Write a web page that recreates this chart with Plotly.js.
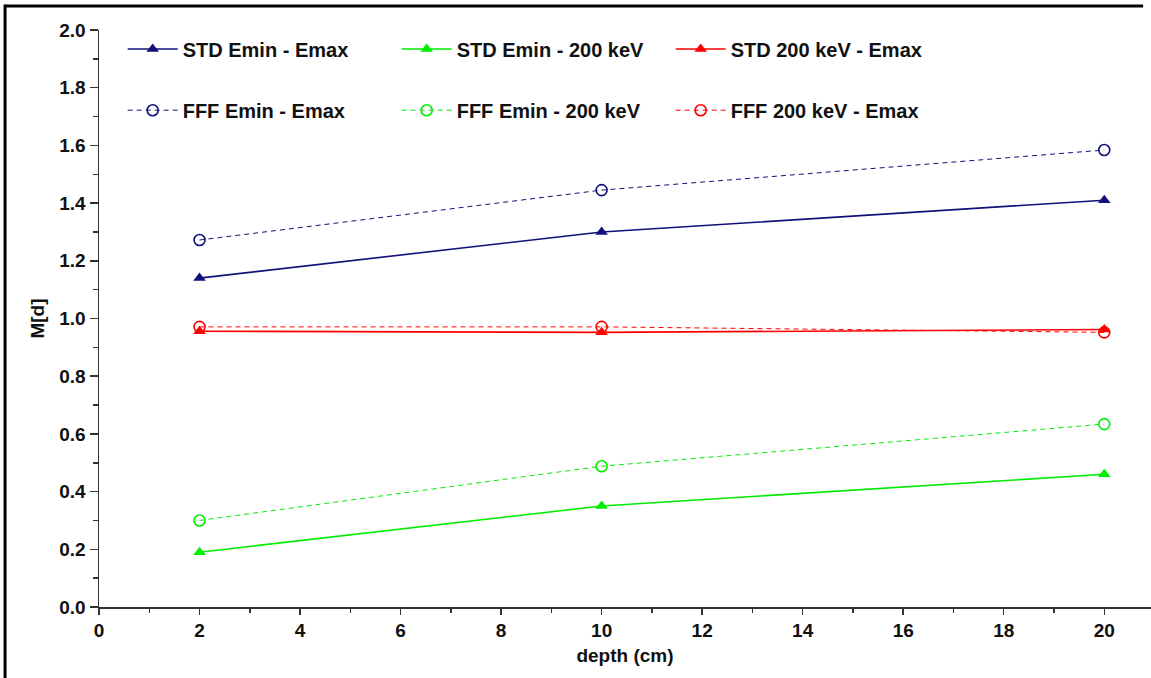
<!DOCTYPE html>
<html>
<head>
<meta charset="utf-8">
<script src="https://cdn.plot.ly/plotly-3.0.1.min.js"></script>
<style>
  html, body { margin: 0; padding: 0; background: #fff; }
  #chart { width: 1151px; height: 678px; }
</style>
</head>
<body>
<div id="chart"></div>
<script>
// ---- data ----
const depth = [2, 10, 20];
const stdEminEmax   = [1.140, 1.300, 1.410];
const stdEmin200    = [0.190, 0.350, 0.460];
const std200Emax    = [0.956, 0.952, 0.962];
const fffEminEmax   = [1.272, 1.445, 1.584];
const fffEmin200    = [0.300, 0.488, 0.634];
const fff200Emax    = [0.971, 0.971, 0.952];

const seriesNames = [
  'STD Emin - Emax', 'STD Emin - 200 keV', 'STD 200 keV - Emax',
  'FFF Emin - Emax', 'FFF Emin - 200 keV', 'FFF 200 keV - Emax'
];
const xTitle = 'depth (cm)';
const yTitle = 'M[d]';

const NAVY = '#10107a', GREEN = '#00ee00', RED = '#ff0000';
const FONT = 'Liberation Sans, Arial, Helvetica, sans-serif';

function stdTrace(name, y, color) {
  return {
    x: depth, y: y, name: name, type: 'scatter', mode: 'lines+markers',
    line: {color: color, width: 1.6},
    marker: {symbol: 'triangle-up', size: 11, color: color},
    legend: 'legend'
  };
}
function fffTrace(name, y, color) {
  return {
    x: depth, y: y, name: name, type: 'scatter', mode: 'lines+markers',
    line: {color: color, width: 1, dash: '5px,4px'},
    marker: {symbol: 'circle-open', size: 11, color: color, line: {color: color, width: 1.6}},
    legend: 'legend2'
  };
}

const traces = [
  stdTrace(seriesNames[0], stdEminEmax, NAVY),
  stdTrace(seriesNames[1], stdEmin200, GREEN),
  stdTrace(seriesNames[2], std200Emax, RED),
  fffTrace(seriesNames[3], fffEminEmax, NAVY),
  fffTrace(seriesNames[4], fffEmin200, GREEN),
  fffTrace(seriesNames[5], fff200Emax, RED)
];

const legendCommon = {
  orientation: 'h', xanchor: 'left', yanchor: 'middle',
  x: 0.0225, bgcolor: 'rgba(0,0,0,0)', borderwidth: 0,
  itemwidth: 50, entrywidth: 209, entrywidthmode: 'pixels',
  font: {family: FONT, size: 20, weight: 'bold', color: '#111'},
  traceorder: 'normal'
};

const axisFont = {family: FONT, size: 19, weight: 'bold', color: '#111'};
const titleFont = {family: FONT, size: 19, weight: 'bold', color: '#111'};

const layout = {
  width: 1151, height: 678,
  margin: {l: 99, r: 0, t: 30, b: 71},
  paper_bgcolor: '#fff', plot_bgcolor: '#fff',
  showlegend: true,
  legend: Object.assign({}, legendCommon, {y: 0.967}),
  legend2: Object.assign({}, legendCommon, {y: 0.861}),
  xaxis: {
    range: [0, 20.93], dtick: 2, tick0: 0,
    showgrid: false, zeroline: false,
    showline: true, linecolor: '#333', linewidth: 1.5,
    ticks: 'outside', ticklen: 6, tickwidth: 1.5, tickcolor: '#333',
    minor: {dtick: 1, ticks: 'outside', ticklen: 4, tickwidth: 1.5, tickcolor: '#333', showgrid: false},
    tickfont: axisFont,
    title: {text: xTitle, font: titleFont, standoff: 8},
    automargin: false
  },
  yaxis: {
    range: [0, 2.0], dtick: 0.2, tick0: 0, tickformat: '.1f',
    showgrid: false, zeroline: false,
    showline: true, linecolor: '#333', linewidth: 1.5,
    ticks: 'outside', ticklen: 8, tickwidth: 1.5, tickcolor: '#333',
    minor: {dtick: 0.1, ticks: 'outside', ticklen: 5, tickwidth: 1.5, tickcolor: '#333', showgrid: false},
    tickfont: axisFont,
    title: {text: yTitle, font: titleFont, standoff: 9},
    automargin: false
  },
  shapes: [
    {type: 'line', xref: 'paper', yref: 'paper', x0: -0.0893, x1: 0.9925, y0: 1.0416, y1: 1.0416,
     line: {color: '#000', width: 3}},
    {type: 'line', xref: 'paper', yref: 'paper', x0: -0.0893, x1: -0.0893, y0: 1.0442, y1: -0.13,
     line: {color: '#000', width: 3}}
  ]
};

Plotly.newPlot('chart', traces, layout, {displayModeBar: false, staticPlot: true});
</script>
</body>
</html>
